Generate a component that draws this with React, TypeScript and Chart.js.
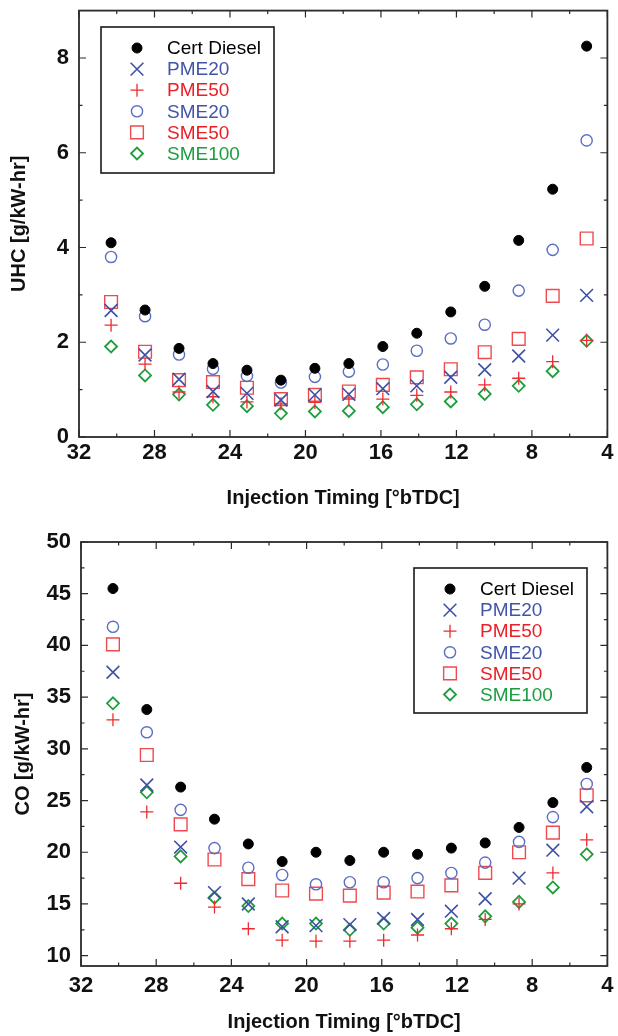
import React, { useEffect, useRef } from 'react';
import { Chart, registerables } from 'chart.js';

Chart.register(...registerables);

// ---------- DATA ----------
const timing = [30.3, 28.5, 26.7, 24.9, 23.1, 21.3, 19.5, 17.7, 15.9, 14.1, 12.3, 10.5, 8.7, 6.9, 5.1];
const seriesNames = ['Cert Diesel', 'PME20', 'PME50', 'SME20', 'SME50', 'SME100'];

const uhcCert = [4.1, 2.68, 1.87, 1.55, 1.41, 1.2, 1.45, 1.55, 1.91, 2.19, 2.64, 3.18, 4.15, 5.23, 8.25];
const uhcPME20 = [2.67, 1.73, 1.22, 0.96, 0.92, 0.78, 0.89, 0.9, 1.02, 1.08, 1.26, 1.42, 1.71, 2.15, 2.99];
const uhcPME50 = [2.36, 1.54, 0.95, 0.85, 0.74, 0.7, 0.73, 0.8, 0.8, 0.88, 0.95, 1.1, 1.24, 1.59, 2.04];
const uhcSME20 = [3.8, 2.55, 1.74, 1.44, 1.29, 1.15, 1.27, 1.38, 1.53, 1.82, 2.08, 2.37, 3.09, 3.95, 6.26];
const uhcSME50 = [2.85, 1.8, 1.2, 1.16, 1.04, 0.8, 0.89, 0.96, 1.1, 1.26, 1.43, 1.79, 2.07, 2.98, 4.19];
const uhcSME100 = [1.91, 1.3, 0.9, 0.68, 0.65, 0.5, 0.54, 0.55, 0.63, 0.69, 0.75, 0.91, 1.08, 1.39, 2.03];

const coCert = [45.5, 33.8, 26.3, 23.2, 20.8, 19.1, 20.0, 19.2, 20.0, 19.8, 20.4, 20.9, 22.4, 24.8, 28.2];
const coPME20 = [37.4, 26.5, 20.5, 16.1, 15.0, 12.8, 12.9, 13.0, 13.6, 13.5, 14.3, 15.5, 17.5, 20.2, 24.4];
const coPME50 = [32.8, 23.9, 17.0, 14.7, 12.6, 11.5, 11.4, 11.4, 11.5, 12.0, 12.6, 13.5, 15.0, 18.0, 21.2];
const coSME20 = [41.8, 31.6, 24.1, 20.4, 18.5, 17.8, 16.9, 17.1, 17.1, 17.5, 18.0, 19.0, 21.0, 23.4, 26.6];
const coSME50 = [40.1, 29.4, 22.7, 19.3, 17.4, 16.3, 16.0, 15.8, 16.1, 16.2, 16.8, 18.0, 20.0, 21.9, 25.5];
const coSME100 = [34.4, 25.8, 19.6, 15.6, 14.8, 13.1, 13.1, 12.5, 13.1, 12.7, 13.1, 13.8, 15.2, 16.6, 19.8];

const xTicks = [32, 28, 24, 20, 16, 12, 8, 4];
const uhcTicks = [0, 2, 4, 6, 8];
const coTicks = [10, 15, 20, 25, 30, 35, 40, 45, 50];

// ---------- STYLES ----------
type MarkerStyle = {
  pointStyle: string;
  radius: number;
  fill: string;
  stroke: string;
  lw: number;
  text: string;
};

const markerStyles: MarkerStyle[] = [
  { pointStyle: 'circle', radius: 5, fill: '#000000', stroke: '#000000', lw: 1, text: '#000000' },
  { pointStyle: 'crossRot', radius: 9, fill: 'rgba(0,0,0,0)', stroke: '#3d50a5', lw: 1.6, text: '#4254a8' },
  { pointStyle: 'cross', radius: 6.5, fill: 'rgba(0,0,0,0)', stroke: '#ee2b2e', lw: 1.3, text: '#ea2026' },
  { pointStyle: 'circle', radius: 5.6, fill: 'rgba(0,0,0,0)', stroke: '#5b6ec3', lw: 1.4, text: '#4254a8' },
  { pointStyle: 'rect', radius: 9, fill: 'rgba(0,0,0,0)', stroke: '#ef4a50', lw: 1.4, text: '#ea2026' },
  { pointStyle: 'rectRot', radius: 6, fill: 'rgba(0,0,0,0)', stroke: '#1f9d3d', lw: 1.8, text: '#1b9e40' },
];

const FRAME_COLOR = '#2b2b2b';
const TICK_FONT = { family: 'Liberation Sans', weight: 'bold' as const, size: 22 };
const TITLE_FONT = { family: 'Liberation Sans', weight: 'bold' as const, size: 20 };
const LEGEND_FONT = '19px "Liberation Sans"';

function drawMarker(ctx: CanvasRenderingContext2D, s: MarkerStyle, x: number, y: number) {
  const r = s.radius;
  ctx.save();
  ctx.lineWidth = s.lw;
  ctx.strokeStyle = s.stroke;
  ctx.fillStyle = s.fill;
  ctx.beginPath();
  let fillable = true;
  switch (s.pointStyle) {
    case 'circle':
      ctx.arc(x, y, r, 0, Math.PI * 2);
      break;
    case 'cross':
      fillable = false;
      ctx.moveTo(x - r, y);
      ctx.lineTo(x + r, y);
      ctx.moveTo(x, y - r);
      ctx.lineTo(x, y + r);
      break;
    case 'crossRot': {
      fillable = false;
      const o = r * Math.SQRT1_2;
      ctx.moveTo(x - o, y - o);
      ctx.lineTo(x + o, y + o);
      ctx.moveTo(x + o, y - o);
      ctx.lineTo(x - o, y + o);
      break;
    }
    case 'rect': {
      const h = r * Math.SQRT1_2;
      ctx.rect(x - h, y - h, 2 * h, 2 * h);
      break;
    }
    case 'rectRot':
      ctx.moveTo(x - r, y);
      ctx.lineTo(x, y - r);
      ctx.lineTo(x + r, y);
      ctx.lineTo(x, y + r);
      ctx.closePath();
      break;
  }
  if (fillable) ctx.fill();
  ctx.stroke();
  ctx.restore();
}

// frame + inward ticks on all four sides
const framePlugin = {
  id: 'frameTicks',
  afterDatasetsDraw(chart: any) {
    const { ctx, chartArea: a, scales } = chart;
    const xs = scales.x;
    const ys = scales.y;
    const majorLen = 7;
    const minorLen = 3.5;
    ctx.save();
    ctx.strokeStyle = FRAME_COLOR;
    ctx.lineWidth = 1.2;
    const xMaj = xs.ticks.map((t: any) => t.value);
    const yMaj = ys.ticks.map((t: any) => t.value);
    const mids = (arr: number[]) => arr.slice(1).map((v, i) => (v + arr[i]) / 2);
    const drawX = (vals: number[], len: number) => {
      vals.forEach((v) => {
        const px = xs.getPixelForValue(v);
        ctx.beginPath();
        ctx.moveTo(px, a.bottom);
        ctx.lineTo(px, a.bottom - len);
        ctx.moveTo(px, a.top);
        ctx.lineTo(px, a.top + len);
        ctx.stroke();
      });
    };
    const drawY = (vals: number[], len: number) => {
      vals.forEach((v) => {
        const py = ys.getPixelForValue(v);
        ctx.beginPath();
        ctx.moveTo(a.left, py);
        ctx.lineTo(a.left + len, py);
        ctx.moveTo(a.right, py);
        ctx.lineTo(a.right - len, py);
        ctx.stroke();
      });
    };
    drawX(xMaj, majorLen);
    drawX(mids(xMaj), minorLen);
    drawY(yMaj, majorLen);
    const yMinor = mids(yMaj);
    const step = yMaj.length > 1 ? yMaj[1] - yMaj[0] : 0;
    const extra = yMaj[yMaj.length - 1] + step / 2;
    if (extra < ys.max) yMinor.push(extra);
    drawY(yMinor, minorLen);
    ctx.lineWidth = 1.8;
    ctx.strokeRect(a.left, a.top, a.right - a.left, a.bottom - a.top);
    ctx.restore();
  },
};

// boxed legend inside the plot
const boxLegendPlugin = {
  id: 'boxLegend',
  afterDraw(chart: any, _args: any, opts: any) {
    const { ctx } = chart;
    ctx.save();
    ctx.fillStyle = '#ffffff';
    ctx.fillRect(opts.x, opts.y, opts.w, opts.h);
    ctx.strokeStyle = '#1a1a1a';
    ctx.lineWidth = 1.6;
    ctx.strokeRect(opts.x, opts.y, opts.w, opts.h);
    ctx.font = LEGEND_FONT;
    ctx.textBaseline = 'middle';
    ctx.textAlign = 'left';
    seriesNames.forEach((name, i) => {
      const cy = opts.y + opts.firstRow + i * opts.rowGap;
      drawMarker(ctx, markerStyles[i], opts.x + opts.markerDx, cy);
      ctx.fillStyle = markerStyles[i].text;
      ctx.fillText(name, opts.x + opts.textDx, cy + 1);
    });
    ctx.restore();
  },
};

type PanelProps = {
  height: number;
  series: number[][];
  yTicks: number[];
  yMin: number;
  yMax: number;
  yTitle: string;
  pad: { left: number; right: number; top: number; bottom: number };
  yAxisWidth: number;
  xAxisHeight: number;
  xTickPad: number;
  xTitlePadBottom: number;
  yTitlePadTop: number;
  legend: { x: number; y: number; w: number; h: number };
};

function Panel(p: PanelProps) {
  const ref = useRef<HTMLCanvasElement>(null);
  useEffect(() => {
    if (!ref.current) return;
    const datasets = p.series.map((vals, i) => {
      const s = markerStyles[i];
      return {
        label: seriesNames[i],
        data: vals.map((v, k) => ({ x: timing[k], y: v })),
        showLine: false,
        pointStyle: s.pointStyle,
        pointRadius: s.radius,
        pointHoverRadius: s.radius,
        pointBackgroundColor: s.fill,
        pointBorderColor: s.stroke,
        pointBorderWidth: s.lw,
        backgroundColor: s.fill,
        borderColor: s.stroke,
      };
    });
    const chart = new Chart(ref.current, {
      type: 'scatter',
      data: { datasets: datasets as any },
      options: {
        responsive: false,
        animation: false,
        devicePixelRatio: 1,
        layout: { padding: p.pad },
        plugins: {
          legend: { display: false },
          tooltip: { enabled: false },
          boxLegend: {
            x: p.legend.x,
            y: p.legend.y,
            w: p.legend.w,
            h: p.legend.h,
            markerDx: 36,
            textDx: 66,
            firstRow: 21,
            rowGap: 21.1,
          },
        } as any,
        scales: {
          x: {
            type: 'linear',
            reverse: true,
            min: 4,
            max: 32,
            grid: { display: false, drawTicks: false },
            border: { display: false },
            ticks: {
              font: TICK_FONT,
              color: '#111111',
              padding: p.xTickPad,
              maxRotation: 0,
              autoSkip: false,
            },
            afterBuildTicks: (s: any) => {
              s.ticks = xTicks.map((v) => ({ value: v }));
            },
            afterFit: (s: any) => {
              s.height = p.xAxisHeight;
              s.paddingLeft = 0;
              s.paddingRight = 0;
            },
            title: {
              display: true,
              text: 'Injection Timing [°bTDC]',
              font: TITLE_FONT,
              color: '#111111',
              padding: { top: 0, bottom: p.xTitlePadBottom },
            },
          },
          y: {
            type: 'linear',
            min: p.yMin,
            max: p.yMax,
            grid: { display: false, drawTicks: false },
            border: { display: false },
            ticks: { font: TICK_FONT, color: '#111111', padding: 10, autoSkip: false },
            afterBuildTicks: (s: any) => {
              s.ticks = p.yTicks.map((v) => ({ value: v }));
            },
            afterFit: (s: any) => {
              s.width = p.yAxisWidth;
              s.paddingTop = 0;
              s.paddingBottom = 0;
            },
            title: {
              display: true,
              text: p.yTitle,
              font: TITLE_FONT,
              color: '#111111',
              padding: { top: p.yTitlePadTop, bottom: 0 },
            },
          },
        },
      },
      plugins: [framePlugin, boxLegendPlugin],
    });
    return () => chart.destroy();
  }, []);
  return (
    <canvas
      ref={ref}
      width={618}
      height={p.height}
      style={{ display: 'block', width: 618, height: p.height }}
    />
  );
}

export default function App() {
  return (
    <div style={{ position: 'absolute', left: 0, top: 0, width: 618, height: 1036, background: '#ffffff' }}>
      <Panel
        height={520}
        series={[uhcCert, uhcPME20, uhcPME50, uhcSME20, uhcSME50, uhcSME100]}
        yTicks={uhcTicks}
        yMin={0}
        yMax={9}
        yTitle="UHC [g/kW-hr]"
        pad={{ left: 0, right: 2, top: 10, bottom: 0 }}
        yAxisWidth={79}
        xAxisHeight={83}
        xTickPad={3}
        xTitlePadBottom={10}
        yTitlePadTop={7}
        legend={{ x: 101, y: 27, w: 173, h: 146 }}
      />
      <Panel
        height={516}
        series={[coCert, coPME20, coPME50, coSME20, coSME50, coSME100]}
        yTicks={coTicks}
        yMin={9}
        yMax={50}
        yTitle="CO [g/kW-hr]"
        pad={{ left: 0, right: 6, top: 22, bottom: 0 }}
        yAxisWidth={81}
        xAxisHeight={70}
        xTickPad={7}
        xTitlePadBottom={2}
        yTitlePadTop={11}
        legend={{ x: 414, y: 48, w: 173, h: 145 }}
      />
    </div>
  );
}
